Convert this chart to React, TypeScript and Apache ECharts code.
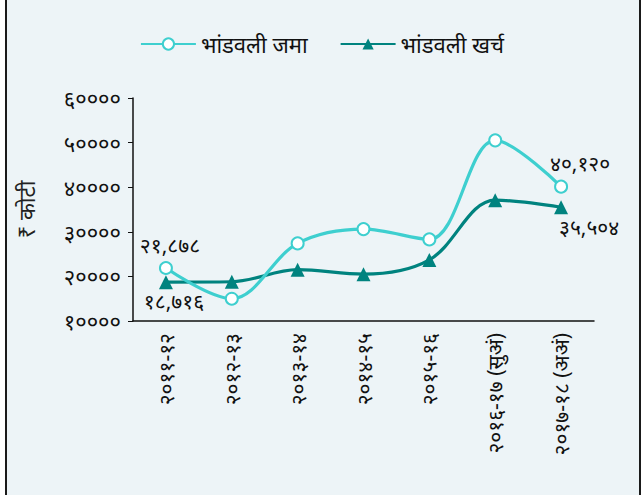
import React, { useEffect, useRef } from "react";
import * as echarts from "echarts";

const categories = [
  "२०११-१२",
  "२०१२-१३",
  "२०१३-१४",
  "२०१४-१५",
  "२०१५-१६",
  "२०१६-१७ (सुअं)",
  "२०१७-१८ (अअं)",
];
const jamaValues = [21878, 15000, 27400, 30600, 28300, 50500, 40120];
const kharchValues = [18716, 18800, 21500, 20500, 23700, 37100, 35504];
const seriesNames = ["भांडवली जमा", "भांडवली खर्च"];
const yAxisName = "₹ कोटी";

const devDigits = "०१२३४५६७८९";
const toDev = (s: string) => s.replace(/[0-9]/g, (d) => devDigits[+d]);
const fmtNum = (v: number) => toDev(v.toLocaleString("en-IN"));

const FONT = "'Noto Sans', 'Noto Sans Devanagari', sans-serif";

export default function App() {
  const ref = useRef<HTMLDivElement>(null);
  useEffect(() => {
    if (!ref.current) return;
    const chart = echarts.init(ref.current, undefined, { renderer: "svg" });
    const lastIdx = categories.length - 1;
    chart.setOption({
      animation: false,
      backgroundColor: "transparent",
      textStyle: { fontFamily: FONT },
      legend: {
        top: 28,
        left: "center",
        itemWidth: 55,
        itemHeight: 14,
        itemGap: 32,
        textStyle: { fontSize: 22, color: "#111", fontFamily: FONT },
        data: seriesNames,
      },
      grid: { left: 133, right: 50, top: 98, bottom: 174, containLabel: false },
      xAxis: {
        type: "category",
        data: categories,
        boundaryGap: true,
        axisLine: { lineStyle: { color: "#111", width: 1.5 } },
        axisTick: { length: 5, lineStyle: { color: "#111" } },
        axisLabel: {
          rotate: 90,
          fontSize: 21,
          color: "#111",
          margin: 12,
          fontFamily: FONT,
        },
      },
      yAxis: {
        type: "value",
        min: 10000,
        max: 60000,
        interval: 10000,
        name: yAxisName,
        nameLocation: "middle",
        nameGap: 96,
        nameRotate: 90,
        nameTextStyle: { fontSize: 22, color: "#222", fontFamily: FONT },
        axisLine: { show: true, lineStyle: { color: "#111", width: 1.5 } },
        axisTick: { show: true, length: 5, lineStyle: { color: "#111" } },
        splitLine: { show: false },
        axisLabel: {
          fontSize: 22,
          color: "#111",
          margin: 12,
          fontFamily: FONT,
          formatter: (v: number) => toDev(String(v)),
        },
      },
      series: [
        {
          name: seriesNames[0],
          type: "line",
          smooth: 0.35,
          data: jamaValues.map((v, i) => {
            if (i === 0)
              return { value: v, label: { show: true, position: "top", distance: 6, offset: [4, 0] } };
            if (i === lastIdx)
              return { value: v, label: { show: true, position: "top", distance: 6, offset: [19, 0] } };
            return v;
          }),
          symbol: "circle",
          symbolSize: 12,
          itemStyle: { color: "#ffffff", borderColor: "#3ECFCF", borderWidth: 2 },
          lineStyle: { color: "#3ECFCF", width: 3.2 },
          label: {
            show: false,
            fontSize: 21,
            color: "#111",
            fontFamily: FONT,
            formatter: (p: any) => fmtNum(p.value),
          },
          z: 3,
        },
        {
          name: seriesNames[1],
          type: "line",
          smooth: 0.35,
          data: kharchValues.map((v, i) => {
            if (i === 0)
              return { value: v, label: { show: true, position: "bottom", distance: 1, offset: [8, 0] } };
            if (i === lastIdx)
              return { value: v, label: { show: true, position: "bottom", distance: 2, offset: [28, 0] } };
            return v;
          }),
          symbol: "triangle",
          symbolSize: 14,
          itemStyle: { color: "#00837F" },
          lineStyle: { color: "#00837F", width: 3.2 },
          label: {
            show: false,
            fontSize: 21,
            color: "#111",
            fontFamily: FONT,
            formatter: (p: any) => fmtNum(p.value),
          },
          z: 2,
        },
      ],
    });
    return () => chart.dispose();
  }, []);
  return (
    <div
      style={{
        position: "fixed",
        left: 0,
        top: 0,
        width: 644,
        height: 495,
        background: "#ffffff",
      }}
    >
      <div
        style={{
          position: "absolute",
          left: 5,
          top: 0,
          width: 632,
          height: 495,
          background: "#EDF4F7",
          borderLeft: "2px solid #1a1a1a",
          borderRight: "2px solid #1a1a1a",
        }}
      />
      <div ref={ref} style={{ position: "absolute", left: 0, top: 0, width: 644, height: 495 }} />
    </div>
  );
}
